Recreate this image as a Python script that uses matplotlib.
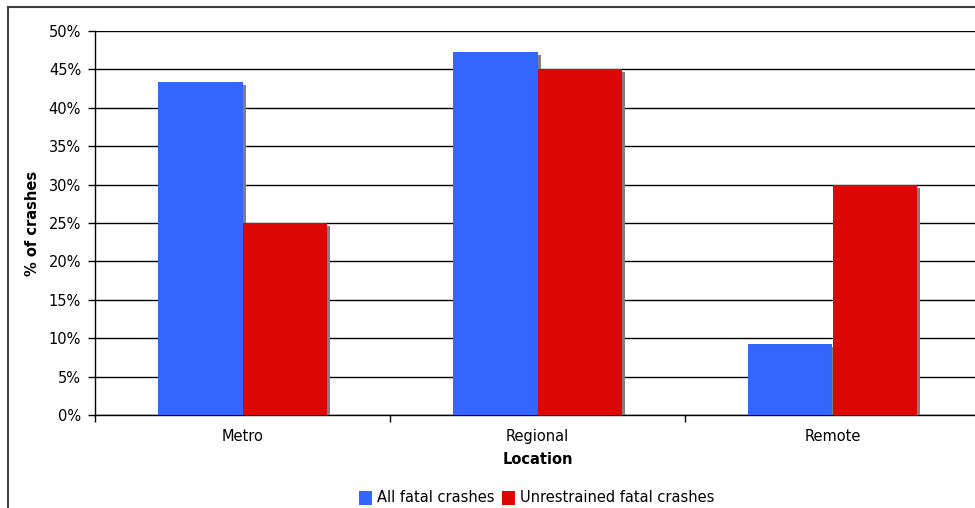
import matplotlib
matplotlib.use("Agg")
import matplotlib.pyplot as plt
import matplotlib.patheffects as pe
from matplotlib.lines import Line2D
from matplotlib.patches import Patch
import numpy as np

locations = ["Metro", "Regional", "Remote"]
all_fatal = [43.4, 47.3, 9.2]
unrestrained = [25.0, 45.0, 30.0]
series_names = ["All fatal crashes", "Unrestrained fatal crashes"]
colors = ["#3366FF", "#DD0806"]

plt.rcParams["font.family"] = "DejaVu Sans"

fig = plt.figure(figsize=(9.75, 5.08), dpi=100)

# outer chart border (left and top only, rest is cropped)
fig.add_artist(Line2D([8 / 975, 8 / 975], [0, 1 - 7 / 508], transform=fig.transFigure,
                      color="#404040", lw=1.5))
fig.add_artist(Line2D([8 / 975, 1], [1 - 7 / 508, 1 - 7 / 508], transform=fig.transFigure,
                      color="#404040", lw=1.5))

ax = fig.add_axes([95 / 975, 1 - 415 / 508, 885 / 975, 384 / 508])

x = np.arange(len(locations))
w = 0.285
shadow = [pe.SimplePatchShadow(offset=(2.2, -2.2), shadow_rgbFace="#808080", alpha=1.0), pe.Normal()]
b1 = ax.bar(x - w / 2, all_fatal, w, color=colors[0], zorder=3)
b2 = ax.bar(x + w / 2, unrestrained, w, color=colors[1], zorder=3)
for b in list(b1) + list(b2):
    b.set_path_effects(shadow)

ax.set_xlim(-0.5, 2.5)
ax.set_ylim(0, 50)
ax.set_yticks(np.arange(0, 51, 5))
ax.set_yticklabels([f"{v}%" for v in range(0, 51, 5)], fontsize=10.5)
ax.yaxis.grid(True, color="black", lw=1.0, zorder=0)
ax.set_axisbelow(True)

ax.set_xticks([-0.5, 0.5, 1.5, 2.5])
ax.set_xticklabels([])
ax.set_xticks(x, minor=True)
ax.set_xticklabels(locations, minor=True, fontsize=10.5)
ax.tick_params(axis="x", which="minor", length=0, pad=10)
ax.tick_params(axis="x", which="major", length=5, width=1)
ax.tick_params(axis="y", length=5, width=1, pad=5)

for s in ["top", "right"]:
    ax.spines[s].set_visible(False)
ax.spines["left"].set_linewidth(1)
ax.spines["bottom"].set_linewidth(1)

ax.set_ylabel("% of crashes", fontsize=10.5, fontweight="bold", labelpad=6)
ax.set_xlabel("Location", fontsize=10.5, fontweight="bold", labelpad=6)

handles = [Patch(facecolor=c, edgecolor="none") for c in colors]
fig.legend(handles, series_names, loc="center", bbox_to_anchor=(537 / 975, 10 / 508), ncol=2,
           frameon=False, fontsize=10.5, handlelength=0.9, handleheight=1.1, handletextpad=0.35,
           columnspacing=0.5, borderaxespad=0, borderpad=0)

fig.savefig("out.png", dpi=100)
